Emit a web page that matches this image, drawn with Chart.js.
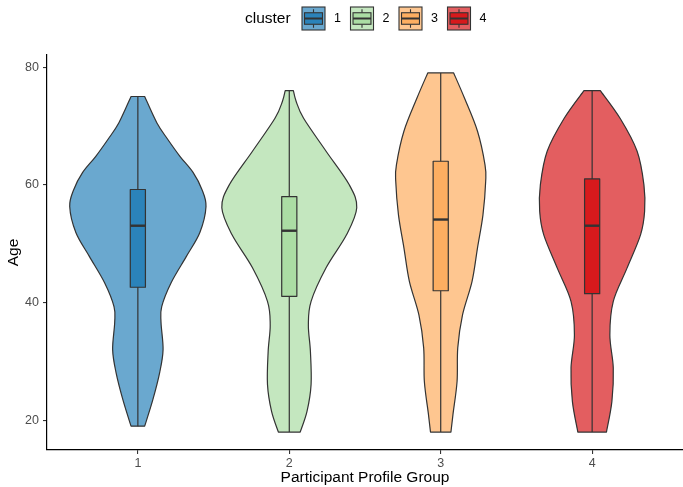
<!DOCTYPE html>
<html>
<head>
<meta charset="utf-8">
<script src="https://cdn.jsdelivr.net/npm/chart.js@4.4.1/dist/chart.umd.min.js"></script>
<style>
  html, body { margin: 0; padding: 0; background: #fff; }
  #wrap { width: 683px; height: 487px; }
</style>
</head>
<body>
<div id="wrap"><canvas id="violinChart" width="683" height="487"></canvas></div>
<script>
// Data
const clusters = ['1', '2', '3', '4'];
const groupTicks = [1, 2, 3, 4];
const ageTicks = [20, 40, 60, 80];

// Box plot statistics (age)
const boxLow = [19, 18, 18, 18];
const boxQ1 = [42.6, 41.05, 42.0, 41.5];
const boxMedian = [53.05, 52.2, 54.1, 53.05];
const boxQ3 = [59.2, 58.0, 64.0, 61.0];
const boxHigh = [75, 76, 79, 76];

// Violin outlines: age grid and scaled density (1 = widest violin)
const ages1 = [19, 23.5, 28.1, 32.0, 36.6, 39.3, 43.4, 47.8, 51.9, 56.3, 59.2, 62.1, 64.8, 67.7, 70.5, 75];
const dens1 = [0.10, 0.22, 0.32, 0.37, 0.34, 0.35, 0.49, 0.71, 0.91, 1.00, 0.94, 0.81, 0.62, 0.44, 0.28, 0.10];
const ages2 = [18, 21.5, 26.1, 31.7, 36.2, 40.2, 45.9, 51.5, 56.1, 60, 65.7, 71.3, 74.2, 76];
const dens2 = [0.16, 0.26, 0.32, 0.31, 0.28, 0.32, 0.54, 0.84, 0.99, 0.88, 0.54, 0.21, 0.10, 0.06];
const ages3 = [18, 21, 26.6, 32.3, 37.9, 43.6, 49.3, 54.9, 60.6, 63.4, 69.1, 74.7, 79];
const dens3 = [0.15, 0.18, 0.24, 0.25, 0.32, 0.46, 0.54, 0.62, 0.66, 0.65, 0.54, 0.35, 0.19];
const ages4 = [18, 23.2, 28.9, 34.5, 40.2, 45.8, 51.5, 55.5, 60, 65.7, 71.3, 76];
const dens4 = [0.21, 0.29, 0.31, 0.26, 0.31, 0.51, 0.71, 0.77, 0.76, 0.66, 0.41, 0.12];

const violinAges = [ages1, ages2, ages3, ages4];
const violinDens = [dens1, dens2, dens3, dens4];

const boxColors = ['#2b83ba', '#abdda4', '#fdae61', '#d7191c'];
const violinColors = ['rgba(43,131,186,0.7)', 'rgba(171,221,164,0.7)', 'rgba(253,174,97,0.7)', 'rgba(215,25,28,0.7)'];
const FONT = '"Liberation Sans", Arial, Helvetica, sans-serif';
const OUTLINE = '#333333';
const MAX_HALF = 0.45;   // half of violin width (0.9)
const BOX_HALF = 0.05;   // half of box width (0.1)

// Smooth curve through points (Catmull-Rom -> bezier)
function curveThrough(ctx, pts) {
    for (let i = 0; i < pts.length - 1; i++) {
        const p0 = pts[i - 1] || pts[i];
        const p1 = pts[i];
        const p2 = pts[i + 1];
        const p3 = pts[i + 2] || pts[i + 1];
        ctx.bezierCurveTo(
            p1.x + (p2.x - p0.x) / 6, p1.y + (p2.y - p0.y) / 6,
            p2.x - (p3.x - p1.x) / 6, p2.y - (p3.y - p1.y) / 6,
            p2.x, p2.y
        );
    }
}

const violinPlugin = {
    id: 'violins',
    beforeDatasetsDraw(chart) {
        const ctx = chart.ctx;
        const xs = chart.scales.x;
        const ys = chart.scales.y;
        ctx.save();
        clusters.forEach((c, i) => {
            const g = groupTicks[i];
            const ages = violinAges[i];
            const dens = violinDens[i];
            const right = ages.map((a, k) => ({ x: xs.getPixelForValue(g + dens[k] * MAX_HALF), y: ys.getPixelForValue(a) }));
            const left = ages.map((a, k) => ({ x: xs.getPixelForValue(g - dens[k] * MAX_HALF), y: ys.getPixelForValue(a) })).reverse();

            // violin
            ctx.beginPath();
            ctx.moveTo(right[0].x, right[0].y);
            curveThrough(ctx, right);
            ctx.lineTo(left[0].x, left[0].y);
            curveThrough(ctx, left);
            ctx.closePath();
            ctx.fillStyle = violinColors[i];
            ctx.fill();
            ctx.lineWidth = 1.2;
            ctx.strokeStyle = OUTLINE;
            ctx.lineJoin = 'round';
            ctx.stroke();

            // whisker
            const cx = xs.getPixelForValue(g);
            ctx.beginPath();
            ctx.moveTo(cx, ys.getPixelForValue(boxLow[i]));
            ctx.lineTo(cx, ys.getPixelForValue(boxHigh[i]));
            ctx.lineWidth = 1.2;
            ctx.stroke();

            // box
            const bl = xs.getPixelForValue(g - BOX_HALF);
            const br = xs.getPixelForValue(g + BOX_HALF);
            const bt = ys.getPixelForValue(boxQ3[i]);
            const bb = ys.getPixelForValue(boxQ1[i]);
            ctx.fillStyle = boxColors[i];
            ctx.fillRect(bl, bt, br - bl, bb - bt);
            ctx.strokeRect(bl, bt, br - bl, bb - bt);

            // median
            const my = ys.getPixelForValue(boxMedian[i]);
            ctx.beginPath();
            ctx.moveTo(bl, my);
            ctx.lineTo(br, my);
            ctx.lineWidth = 2.4;
            ctx.stroke();
        });
        ctx.restore();
    },
    afterDraw(chart) {
        // legend: "cluster" + keys
        const ctx = chart.ctx;
        ctx.save();
        ctx.fillStyle = '#000';
        ctx.font = '15.5px ' + FONT;
        ctx.textBaseline = 'middle';
        ctx.fillText('cluster', 245, 18.5);
        const keyX = [302, 350.5, 399, 447.5];
        const size = 23;
        const top = 7;
        clusters.forEach((c, i) => {
            const x = keyX[i];
            ctx.fillStyle = violinColors[i];
            ctx.fillRect(x, top, size, size);
            ctx.lineWidth = 1.1;
            ctx.strokeStyle = OUTLINE;
            ctx.strokeRect(x, top, size, size);
            const mid = x + size / 2;
            ctx.beginPath();
            ctx.moveTo(mid, top + size * 0.1);
            ctx.lineTo(mid, top + size * 0.25);
            ctx.moveTo(mid, top + size * 0.75);
            ctx.lineTo(mid, top + size * 0.9);
            ctx.stroke();
            ctx.fillStyle = boxColors[i];
            ctx.fillRect(x + size * 0.11, top + size * 0.25, size * 0.78, size * 0.5);
            ctx.strokeRect(x + size * 0.11, top + size * 0.25, size * 0.78, size * 0.5);
            ctx.beginPath();
            ctx.moveTo(x + size * 0.11, top + size / 2);
            ctx.lineTo(x + size * 0.89, top + size / 2);
            ctx.lineWidth = 2;
            ctx.stroke();
            ctx.fillStyle = '#000';
            ctx.font = '12.5px ' + FONT;
            ctx.fillText(c, x + size + 9, top + size / 2 + 0.5);
        });
        ctx.restore();
    }
};

new Chart(document.getElementById('violinChart').getContext('2d'), {
    type: 'scatter',
    data: { datasets: [] },
    options: {
        responsive: false,
        devicePixelRatio: 1,
        animation: false,
        layout: { padding: { top: 55, right: 0, left: 0, bottom: 0 } },
        plugins: { legend: { display: false }, tooltip: { enabled: false } },
        scales: {
            x: {
                type: 'linear',
                min: 0.4,
                max: 4.6,
                afterBuildTicks: s => { s.ticks = groupTicks.map(v => ({ value: v })); },
                afterFit: s => { s.height = 37; },
                grid: { drawOnChartArea: false, drawTicks: true, tickLength: 4, color: OUTLINE, lineWidth: 1.1 },
                border: { display: true, color: '#000', width: 1.2 },
                ticks: { color: '#4d4d4d', font: { family: FONT, size: 12.5 }, padding: 2, autoSkip: false, maxRotation: 0 },
                title: { display: true, text: 'Participant Profile Group', color: '#000', font: { family: FONT, size: 15.5 }, padding: 0 }
            },
            y: {
                type: 'linear',
                min: 14.95,
                max: 82.05,
                afterBuildTicks: s => { s.ticks = ageTicks.map(v => ({ value: v })); },
                afterFit: s => { s.width = 47; },
                grid: { drawOnChartArea: false, drawTicks: true, tickLength: 4, color: OUTLINE, lineWidth: 1.1 },
                border: { display: true, color: '#000', width: 1.2 },
                ticks: { color: '#4d4d4d', font: { family: FONT, size: 12.5 }, padding: 4 },
                title: { display: true, text: 'Age', color: '#000', font: { family: FONT, size: 15.5 }, padding: { top: 4, bottom: 0 } }
            }
        }
    },
    plugins: [violinPlugin]
});
</script>
</body>
</html>
